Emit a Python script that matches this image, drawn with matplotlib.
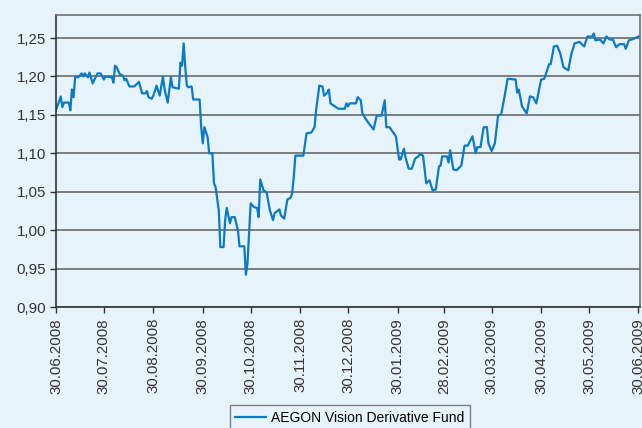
import pandas as pd
import matplotlib
matplotlib.use('Agg')
import matplotlib.pyplot as plt

# fund value, days counted from 30.06.2008
days_since_start = [0, 3, 4, 5, 8, 9, 10, 11, 12, 14, 16, 17, 18, 20, 21, 23, 26, 28, 30, 31,
                    35, 36, 37, 38, 40, 42, 43, 44, 46, 49, 52, 54, 56, 57, 58, 60, 61, 63, 65, 67,
                    68, 70, 72, 73, 77, 78, 79, 80, 81, 82, 83, 85, 86, 90, 91, 92, 93, 95, 96, 98,
                    99, 100, 102, 103, 105, 106, 107, 109, 110, 112, 114, 115, 118, 119, 120, 122, 124, 126, 127, 128,
                    130, 132, 134, 136, 137, 140, 141, 143, 145, 147, 148, 149, 150, 155, 157, 160, 162, 163, 165, 167,
                    168, 170, 171, 172, 174, 177, 181, 182, 183, 184, 188, 189, 191, 192, 194, 196, 199, 201, 204, 206,
                    207, 209, 213, 215, 216, 218, 219, 221, 223, 225, 227, 228, 230, 232, 234, 236, 238, 240, 241, 242,
                    245, 246, 247, 249, 251, 254, 256, 258, 261, 263, 264, 266, 268, 270, 271, 273, 275, 277, 279, 281,
                    283, 288, 289, 290, 292, 293, 295, 297, 299, 301, 304, 306, 309, 310, 312, 314, 316, 318, 321, 323,
                    325, 328, 331, 333, 336, 337, 338, 341, 343, 345, 347, 349, 351, 353, 356, 357, 359, 362, 365]
fund_value = [1.156, 1.174, 1.160, 1.166, 1.166, 1.156, 1.183, 1.173, 1.199, 1.199, 1.204, 1.200, 1.204, 1.199, 1.205, 1.191, 1.204, 1.204, 1.196, 1.200,
              1.199, 1.192, 1.214, 1.212, 1.203, 1.201, 1.195, 1.197, 1.187, 1.187, 1.193, 1.178, 1.178, 1.181, 1.173, 1.171, 1.175, 1.188, 1.175, 1.200,
              1.184, 1.166, 1.199, 1.186, 1.184, 1.218, 1.214, 1.243, 1.212, 1.188, 1.186, 1.187, 1.170, 1.170, 1.134, 1.113, 1.134, 1.121, 1.100, 1.100,
              1.061, 1.056, 1.026, 0.978, 0.978, 1.013, 1.029, 1.009, 1.017, 1.017, 1.000, 0.979, 0.979, 0.942, 0.957, 1.035, 1.030, 1.029, 1.017, 1.066,
              1.052, 1.049, 1.026, 1.013, 1.022, 1.027, 1.019, 1.015, 1.040, 1.042, 1.048, 1.069, 1.097, 1.097, 1.126, 1.127, 1.134, 1.156, 1.188, 1.187,
              1.175, 1.179, 1.183, 1.165, 1.162, 1.158, 1.158, 1.165, 1.161, 1.165, 1.165, 1.173, 1.169, 1.152, 1.145, 1.139, 1.131, 1.149, 1.149, 1.169,
              1.134, 1.134, 1.122, 1.092, 1.092, 1.106, 1.095, 1.080, 1.080, 1.093, 1.096, 1.099, 1.097, 1.061, 1.065, 1.052, 1.053, 1.083, 1.084, 1.096,
              1.096, 1.088, 1.104, 1.079, 1.078, 1.084, 1.110, 1.110, 1.122, 1.100, 1.108, 1.108, 1.134, 1.134, 1.113, 1.103, 1.113, 1.149, 1.151, 1.173,
              1.197, 1.196, 1.179, 1.183, 1.161, 1.158, 1.152, 1.174, 1.173, 1.165, 1.196, 1.197, 1.216, 1.216, 1.239, 1.240, 1.230, 1.212, 1.208, 1.230,
              1.243, 1.245, 1.239, 1.252, 1.252, 1.256, 1.247, 1.248, 1.243, 1.252, 1.248, 1.248, 1.238, 1.242, 1.242, 1.236, 1.247, 1.249, 1.252]

tick_dates = ['2008-06-30', '2008-07-30', '2008-08-30', '2008-09-30', '2008-10-30', '2008-11-30',
              '2008-12-30', '2009-01-30', '2009-02-28', '2009-03-30', '2009-04-30', '2009-05-30', '2009-06-30']
y_ticks = [0.90, 0.95, 1.00, 1.05, 1.10, 1.15, 1.20, 1.25]
series_name = 'AEGON Vision Derivative Fund'

start = pd.Timestamp('2008-06-30')
dates = start + pd.to_timedelta(days_since_start, unit='D')
ticks = pd.to_datetime(tick_dates)

bg = '#e6f3fa'
plt.rcParams['font.family'] = 'Liberation Sans'

fig = plt.figure(figsize=(6.42, 4.28), dpi=100, facecolor=bg)
ax = fig.add_axes([0.0872, 0.2827, 0.9098, 0.6823], facecolor=bg)

line, = ax.plot(dates, fund_value, color='#0a7bc4', linewidth=1.6)

ax.set_ylim(0.90, 1.28)
ax.set_xlim(start, start + pd.Timedelta(days=366))
ax.set_yticks(y_ticks)
ax.set_yticklabels([f'{v:.2f}'.replace('.', ',') for v in y_ticks])
ax.set_xticks(ticks)
ax.set_xticklabels([d.strftime('%d.%m.%Y') for d in ticks], rotation=90)
ax.yaxis.grid(True, color='#6a6a6a', linewidth=1.2)
ax.set_axisbelow(True)

for side in ['left', 'bottom']:
    ax.spines[side].set_color('#333333')
    ax.spines[side].set_linewidth(1.2)
for side in ['top', 'right']:
    ax.spines[side].set_color('#707070')
    ax.spines[side].set_linewidth(1.2)

ax.tick_params(axis='both', labelsize=10.8, colors='#333333', length=4, width=1, pad=3)
ax.tick_params(axis='x', pad=4)

fig.legend(handles=[line], labels=[series_name], loc='upper center',
           bbox_to_anchor=(0.545, 0.07), frameon=True, fancybox=False,
           edgecolor='#808080', facecolor=bg, framealpha=1, fontsize=10,
           handlelength=2.2, handletextpad=0.4, borderpad=0.4)

plt.savefig('out.png', dpi=100, facecolor=bg)
